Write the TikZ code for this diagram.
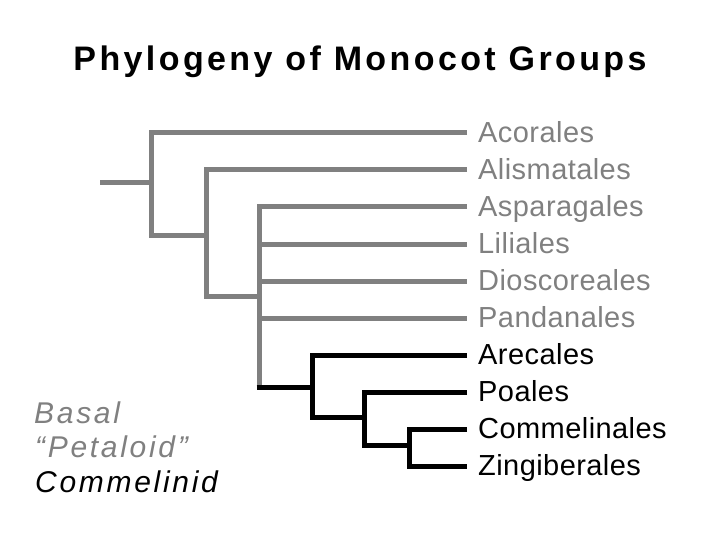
\documentclass[tikz,border=0pt]{standalone}
\usepackage{fontspec}
\setmainfont{Liberation Sans}
\newfontfamily\titlefont[LetterSpace=10]{Liberation Sans}
\newfontfamily\cladefont[LetterSpace=9]{Liberation Sans}
\newfontfamily\taxonfont[LetterSpace=1.5]{Liberation Sans}
\usetikzlibrary{positioning}
\definecolor{basal}{RGB}{128,128,128}

\begin{document}
\begin{tikzpicture}[x=1pt,y=-1pt,
                    branch/.style={line width=5pt,draw=basal},
                    commel/.style={line width=5pt,draw=black},
                    taxon/.style={anchor=base west,inner sep=0pt,
                                  font=\taxonfont\fontsize{29}{34}\selectfont},
                    clade/.style={anchor=base west,inner sep=0pt,
                                  font=\cladefont\itshape\fontsize{30}{34}\selectfont}]
   \useasboundingbox (0,0) rectangle (720,540);
   \node[anchor=base,inner sep=0pt,font=\titlefont\bfseries\fontsize{34}{40}\selectfont]
      (title) at (360,71) {Phylogeny of Monocot Groups};
   % branching points
   \coordinate (r)  at (100,183);
   \coordinate (n1) at (151,183);
   \coordinate (n2) at (206,235);
   \coordinate (n3) at (259,296);
   \coordinate (n4) at (312,387);
   \coordinate (n5) at (364,417);
   \coordinate (n6) at (409,445);
   % tips
   \foreach \i in {1,...,10}
      \coordinate (t\i) at (467,{96+37*\i});
   % basal branches
   \draw[branch] (r) -- (n1);
   \draw[branch] (t1) -| (n1) |- (n2);
   \draw[branch] (t2) -| (n2) |- (n3);
   \draw[branch] (t3) -| (n3) -- (n3 |- n4);
   \foreach \i in {4,5,6}
      \draw[branch] (n3 |- t\i) -- (t\i);
   % commelinid branches
   \draw[commel] ([xshift=-2.5pt]n3 |- n4) -- (n4);
   \draw[commel] (t7) -| (n4) |- (n5);
   \draw[commel] (t8) -| (n5) |- (n6);
   \draw[commel] (t9) -| (n6) |- (t10);
   % orders
   \node[taxon,basal] (acor) at (478,142.5) {Acorales};
   \node[taxon,basal] (alis) at (478,179.5) {Alismatales};
   \node[taxon,basal] (aspa) at (478,216.5) {Asparagales};
   \node[taxon,basal] (lili) at (478,253.5) {Liliales};
   \node[taxon,basal] (dios) at (478,290.5) {Dioscoreales};
   \node[taxon,basal] (pand) at (478,327.5) {Pandanales};
   \node[taxon] (arec) at (478,364.5) {Arecales};
   \node[taxon] (poal) at (478,401.5) {Poales};
   \node[taxon] (comm) at (478,438.5) {Commelinales};
   \node[taxon] (zing) at (478,475.5) {Zingiberales};
   % groups
   \node[clade,basal] (basal) at (34,423) {Basal};
   \node[clade,basal] (petal) at (35,457) {“Petaloid”};
   \node[clade] (cmlnd) at (35,492) {Commelinid};
\end{tikzpicture}
\end{document}
